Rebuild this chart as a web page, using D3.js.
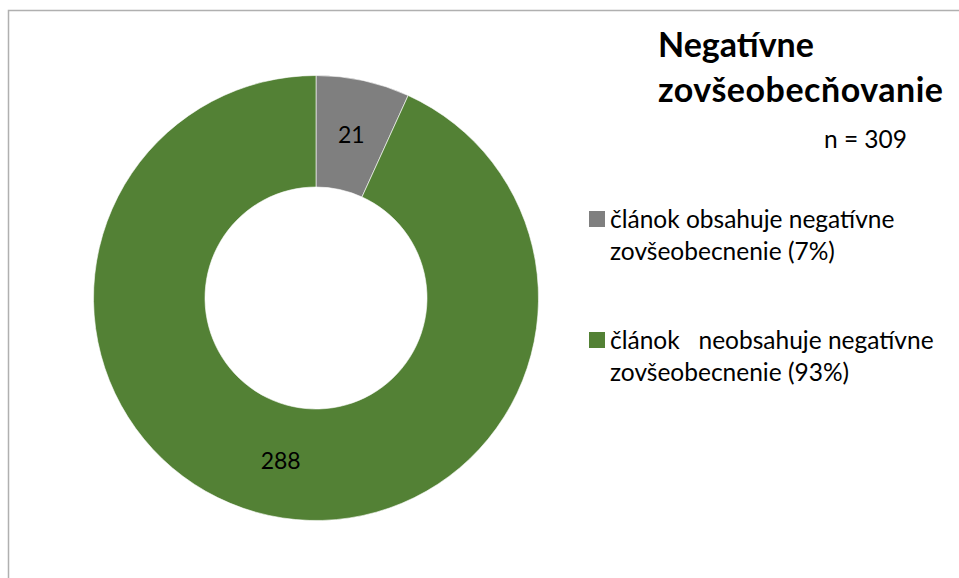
<!DOCTYPE html>
<html><head><meta charset="utf-8">
<script src="https://cdn.jsdelivr.net/npm/d3@7"></script>
<style>html,body{margin:0;padding:0;background:#fff;}svg{display:block;}</style>
</head><body>
<script>
const categories = ["článok obsahuje negatívne zovšeobecnenie (7%)", "článok   neobsahuje negatívne zovšeobecnenie (93%)"];
const legendLines = [["článok obsahuje negatívne", "zovšeobecnenie (7%)"], ["článok\u00a0\u00a0\u00a0neobsahuje negatívne", "zovšeobecnenie (93%)"]];
const values = [21, 288];
const colors = ["#7f7f7f", "#538135"];
const titleLines = ["Negatívne", "zovšeobecňovanie"];
const subtitle = "n = 309";

const W = 959, H = 578;
const font = "Lato, 'Open Sans', sans-serif";
const svg = d3.select("body").append("svg").attr("width", W).attr("height", H);
svg.append("rect").attr("width", W).attr("height", H).attr("fill", "#fff");
// frame
svg.append("path").attr("d", `M8.5,${H} V10.5 H${W}`).attr("fill", "none").attr("stroke", "#b0b0b0").attr("stroke-width", 1.5);

const cx = 316, cy = 298, rOut = 222.5, rIn = 111;
const pie = d3.pie().sort(null).value(d => d);
const arc = d3.arc().innerRadius(rIn).outerRadius(rOut);
const g = svg.append("g").attr("transform", `translate(${cx},${cy})`);
const arcs = pie(values);
g.selectAll("path").data(arcs).join("path")
  .attr("d", arc).attr("fill", (d, i) => colors[i])
  .attr("stroke", "#fff").attr("stroke-width", 0.6);
g.selectAll("text").data(arcs).join("text")
  .attr("transform", d => `translate(${arc.centroid(d)})`)
  .attr("text-anchor", "middle").attr("dy", "0.36em")
  .attr("font-family", font).attr("font-size", 23).attr("fill", "#000")
  .text(d => d.data);

// title
svg.append("text").attr("x", 658).attr("y", 57).attr("font-family", font).attr("font-weight", "bold")
  .attr("font-size", 34).attr("fill", "#000").text(titleLines[0]);
svg.append("text").attr("x", 658).attr("y", 102).attr("font-family", font).attr("font-weight", "bold")
  .attr("font-size", 34).attr("fill", "#000")
  .attr("textLength", 285).attr("lengthAdjust", "spacing").text(titleLines[1]);
svg.append("text").attr("x", 907).attr("y", 148).attr("text-anchor", "end").attr("font-family", font)
  .attr("font-size", 24.5).attr("fill", "#000").text(subtitle);

// legend
const legY = [211, 332];
categories.forEach((c, i) => {
  svg.append("rect").attr("x", 589).attr("y", legY[i]).attr("width", 16).attr("height", 16).attr("fill", colors[i]);
  legendLines[i].forEach((t, j) => {
    svg.append("text").attr("x", 610).attr("y", legY[i] + 17 + j * 31.5)
      .attr("font-family", font).attr("font-size", 24.5).attr("fill", "#000").text(t);
  });
});
</script>
</body></html>
